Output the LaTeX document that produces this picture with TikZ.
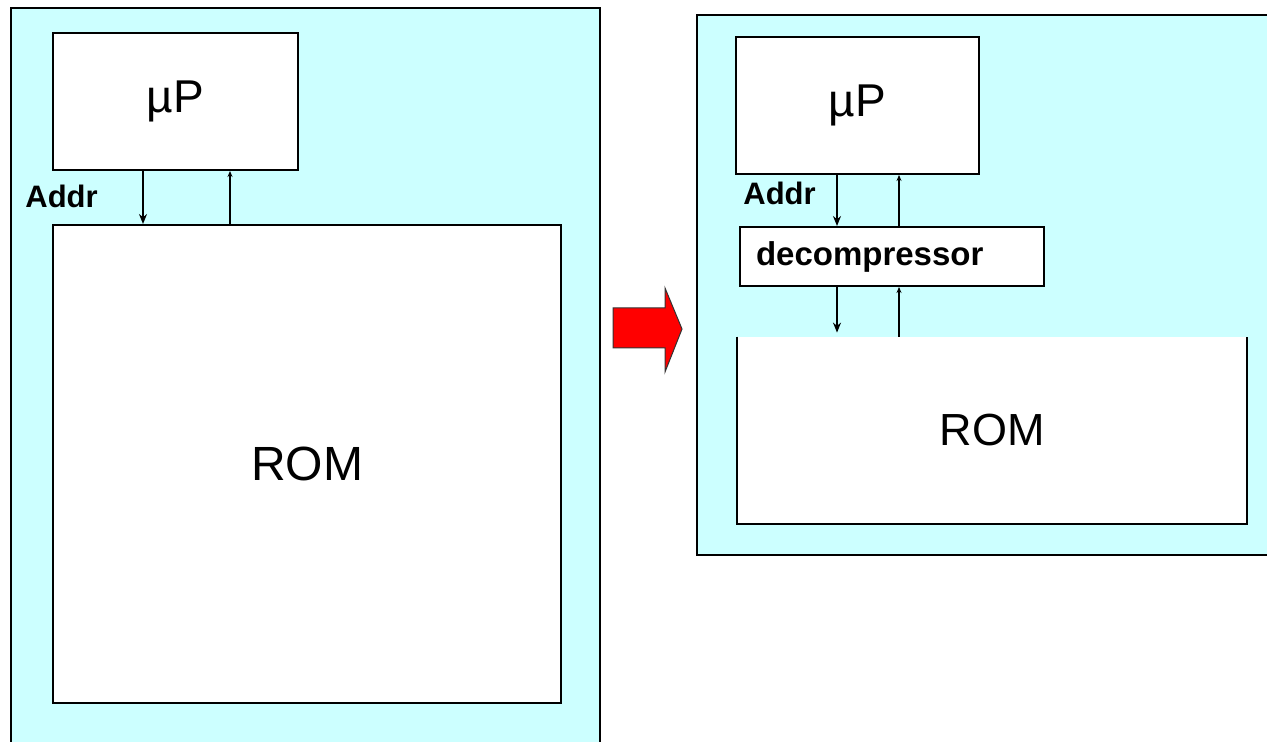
\documentclass[tikz,border=0pt]{standalone}
\usepackage{fontspec}
\setmainfont{Liberation Sans}
\usetikzlibrary{arrows.meta}
\definecolor{panelcyan}{RGB}{204,255,255}

\begin{document}
\begin{tikzpicture}[x=0.5pt, y=-0.5pt,
        panel/.style={draw, line width=1pt, fill=panelcyan, inner sep=0pt},
        box/.style={draw, line width=1pt, fill=white, inner sep=0pt},
        big/.style={font=\fontsize{23}{23}\selectfont},
        lbl/.style={font=\bfseries\fontsize{15.5}{16}\selectfont, inner sep=0pt, anchor=west},
        arr/.style={line width=0.75pt, -{Stealth[length=5pt, width=4pt]}},
        back/.style={line width=0.75pt, -{Stealth[length=3pt, width=2.5pt]}}]
    \clip (0,0) rectangle (1267,742);
    \fill[white] (0,0) rectangle (1267,742);
    % before
    \node[panel, minimum width=294.5pt, minimum height=376pt] (sysL) at (305.5,384) {};
    \node[box, big, minimum width=122.5pt, minimum height=68.5pt] (upL) at (175.5,101.5) {µP};
    \node[box, big, minimum width=254pt, minimum height=239pt] (romL) at (307,464) {\fontsize{24}{24}\selectfont ROM};
    \node[lbl] (addrL) at (25,196) {Addr};
    \draw[arr] ([xshift=-16.25pt]upL.south) -- ([xshift=-16.25pt]upL.south |- romL.north);
    \draw[back] ([xshift=27.25pt]upL.south |- romL.north) -- ([xshift=27.25pt]upL.south);
    % the red arrow
    \filldraw[fill=red, draw=black!80, line width=0.5pt]
        (613,308) -- (665,308) -- (665,288) -- (682,329) -- (665,372) -- (665,348) -- (613,348) -- cycle;
    % after
    \node[panel, minimum width=291.5pt, minimum height=270pt] (sysR) at (988.5,285) {};
    \node[box, big, minimum width=121.5pt, minimum height=68.5pt] (upR) at (857.5,105.5) {µP};
    \node[box, font=\bfseries\fontsize{16.5}{17}\selectfont, text width=136pt, inner xsep=8pt,
          align=left, minimum height=29.5pt] (dec) at (892,256.5) {decompressor};
    \node[fill=white, inner sep=0pt, minimum width=255pt, minimum height=93.5pt] (romR) at (992,430.5)
        {\fontsize{22.5}{23}\selectfont ROM};
    \draw[line width=1pt] (romR.north west) -- (romR.south west) -- (romR.south east) -- (romR.north east);
    \node[lbl] (addrR) at (743,193) {Addr};
    \draw[arr] ([xshift=-10.25pt]upR.south) -- ([xshift=-10.25pt]upR.south |- dec.north);
    \draw[back] ([xshift=20.75pt]upR.south |- dec.north) -- ([xshift=20.75pt]upR.south);
    \draw[arr] ([xshift=-10.25pt]upR.south |- dec.south) -- ([xshift=-10.25pt,yshift=2pt]upR.south |- romR.north);
    \draw[back] ([xshift=20.75pt]upR.south |- romR.north) -- ([xshift=20.75pt]upR.south |- dec.south);
\end{tikzpicture}
\end{document}
